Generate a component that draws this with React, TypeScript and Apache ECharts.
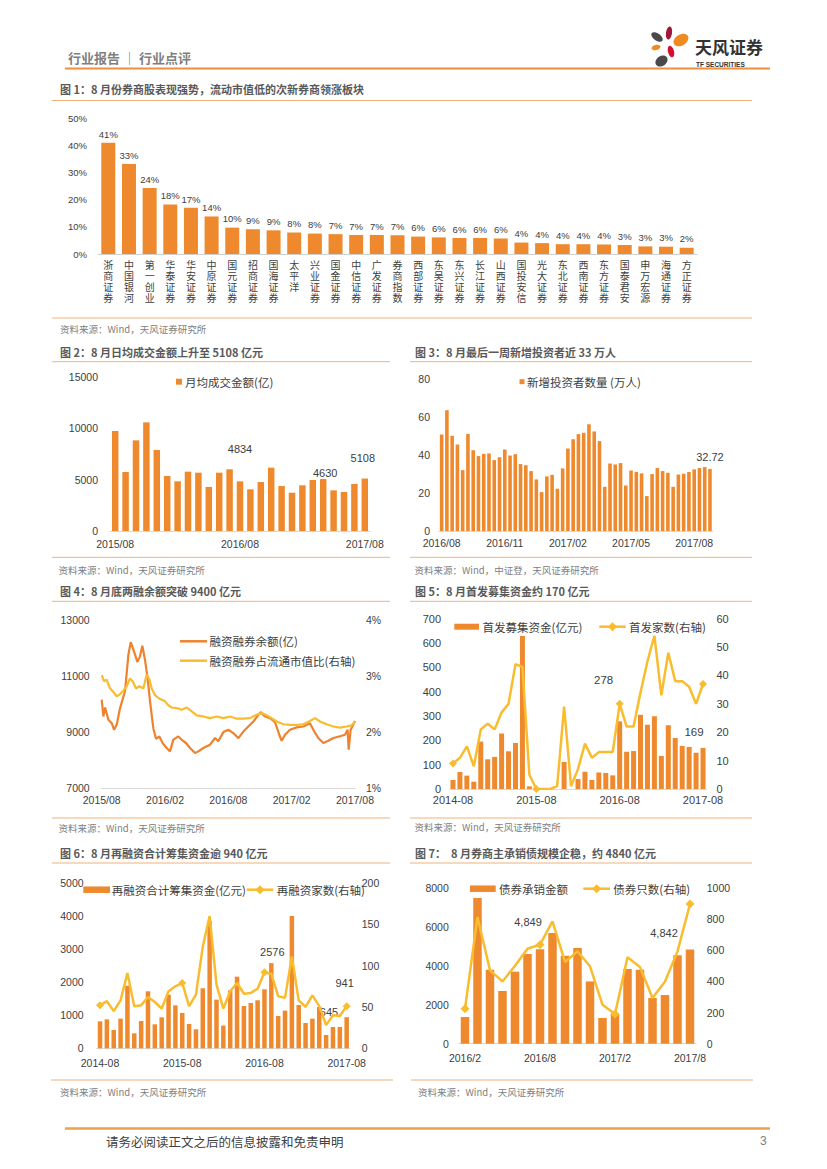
import React, { useEffect, useRef } from "react";
import * as echarts from "echarts";

// ---------- DATA ----------
const fig1Names = ["浙商证券", "中国银河", "第一创业", "华泰证券", "华安证券", "中原证券", "国元证券", "招商证券", "国海证券", "太平洋", "兴业证券", "国金证券", "中信证券", "广发证券", "券商指数", "西部证券", "东吴证券", "东兴证券", "长江证券", "山西证券", "国投安信", "光大证券", "东北证券", "西南证券", "东方证券", "国泰君安", "申万宏源", "海通证券", "方正证券"];
const fig1Values = [40.9, 33.1, 24.3, 18.2, 17.0, 13.8, 9.7, 9.1, 8.7, 7.9, 7.5, 7.3, 7.0, 7.0, 6.9, 6.4, 6.1, 5.9, 5.9, 5.7, 4.2, 4.0, 3.6, 3.6, 3.5, 3.3, 2.8, 2.7, 2.3];

const fig2Values = [9740, 5750, 8830, 10580, 7890, 5360, 4840, 5780, 5680, 4290, 5680, 6010, 4834, 4060, 4770, 6170, 4380, 3730, 4450, 4970, 5060, 3960, 3800, 4580, 5108];
const fig2Notes = [{ index: 12, text: "4834" }, { index: 20, text: "4630" }, { index: 24, text: "5108" }];

const fig3Values = [50.9, 63.7, 50.2, 45.6, 32.1, 51.2, 42.6, 39.5, 40.7, 40.9, 37.4, 38.9, 43.0, 39.8, 40.5, 35.3, 34.7, 31.6, 27.2, 20.5, 28.8, 29.6, 22.3, 33.0, 43.5, 48.4, 51.1, 51.8, 56.3, 52.5, 47.4, 23.3, 35.6, 35.1, 35.8, 24.0, 31.9, 31.2, 30.4, 18.4, 30.0, 33.2, 31.6, 30.7, 23.3, 29.8, 30.2, 31.1, 32.5, 33.2, 33.7, 32.72];
const fig3Ticks = ["2016/08", "2016/11", "2017/02", "2017/05", "2017/08"];
const fig3Notes = [{ index: 51, text: "32.72" }];

// months since 2015/08 and value
const fig4BalanceMonths = [0, 0.16, 0.32, 0.63, 0.95, 1.17, 1.42, 1.74, 2.21, 2.53, 2.75, 3.06, 3.38, 3.63, 3.85, 4.10, 4.33, 4.58, 4.89, 5.15, 5.46, 5.78, 6.16, 6.47, 6.79, 7.26, 7.58, 7.99, 8.37, 8.84, 9.16, 9.63, 10.26, 10.74, 11.05, 11.53, 12.00, 12.47, 12.95, 13.42, 13.89, 14.37, 14.84, 15.06, 15.47, 15.95, 16.42, 16.83, 17.05, 17.37, 17.84, 18.47, 19.10, 19.73, 20.05, 20.52, 21.00, 21.47, 21.95, 22.58, 23.05, 23.30, 23.40, 23.59, 24.00];
const fig4Balance = [10160, 9560, 9880, 9440, 9320, 9080, 9260, 9860, 10460, 11770, 12220, 11890, 11510, 11710, 12090, 11590, 10990, 10100, 9140, 8760, 8845, 8600, 8430, 8310, 8730, 8845, 8725, 8610, 8430, 8250, 8310, 8430, 8550, 8790, 8670, 9000, 9085, 8965, 8785, 9020, 9200, 9380, 9620, 9715, 9560, 9500, 9360, 8905, 8690, 8905, 9085, 9170, 9200, 9320, 9085, 8790, 8610, 8690, 8790, 8850, 8905, 9085, 8370, 9085, 9400];
const fig4RatioMonths = [0, 0.22, 0.47, 0.79, 1.11, 1.42, 1.74, 2.05, 2.37, 2.68, 2.94, 3.25, 3.57, 3.95, 4.26, 4.52, 4.74, 5.05, 5.37, 5.68, 6.00, 6.32, 6.63, 7.10, 7.58, 8.05, 8.53, 9.00, 9.63, 10.26, 10.89, 11.53, 12.16, 12.79, 13.42, 14.05, 14.68, 15.16, 15.63, 16.10, 16.58, 17.21, 17.84, 18.47, 19.10, 19.73, 20.21, 20.68, 21.31, 21.95, 22.58, 23.21, 23.68, 24.00];
const fig4Ratio = [3.02, 2.91, 2.94, 2.78, 2.72, 2.64, 2.68, 2.74, 2.82, 2.96, 2.91, 2.78, 2.82, 2.78, 3.03, 2.94, 2.78, 2.66, 2.61, 2.58, 2.55, 2.48, 2.44, 2.43, 2.40, 2.44, 2.37, 2.30, 2.28, 2.25, 2.28, 2.25, 2.28, 2.24, 2.24, 2.25, 2.31, 2.34, 2.30, 2.25, 2.19, 2.14, 2.13, 2.13, 2.14, 2.20, 2.25, 2.19, 2.14, 2.10, 2.08, 2.10, 2.12, 2.19];
const fig4Ticks = ["2015/08", "2016/02", "2016/08", "2017/02", "2017/08"];

const fig5Amount = [37, 70, 55, 30, 195, 122, 132, 228, 155, 189, 629, 11, 0, 0, 0, 0, 111, 0, 41, 71, 37, 68, 66, 56, 278, 153, 156, 305, 264, 299, 136, 262, 210, 177, 173, 149, 169];
const fig5Count = [9, 11, 15, 8, 21, 23, 21, 27, 30, 44, 43, 5, 0, 0, 0, 1, 29, 1, 7, 16, 11, 13, 13, 13, 30, 22, 22, 34, 45, 54, 33, 48, 38, 38, 36, 30, 37];
const fig5Notes = [{ index: 24, text: "278" }, { index: 36, text: "169" }];

const fig6Amount = [816, 877, 554, 897, 1895, 454, 826, 1724, 726, 937, 1623, 1300, 1069, 736, 575, 1815, 3850, 1472, 685, 1750, 2167, 1280, 1371, 1452, 1784, 2576, 978, 1140, 4000, 1311, 766, 897, 1250, 403, 645, 645, 941];
const fig6Count = [52, 57, 45, 58, 91, 51, 52, 62, 56, 48, 69, 75, 79, 51, 65, 123, 160, 77, 48, 69, 79, 66, 67, 72, 92, 90, 63, 61, 111, 58, 50, 64, 51, 28, 40, 39, 51];
const fig6Notes = [{ index: 25, text: "2576" }, { index: 34, text: "645" }, { index: 36, text: "941" }];

const fig7Amount = [1370, 7490, 3800, 2710, 3700, 4610, 4849, 5690, 4520, 4920, 3200, 1320, 1540, 3840, 3800, 2350, 2500, 4540, 4842];
const fig7Count = [225, 814, 471, 400, 501, 610, 636, 786, 525, 593, 497, 250, 190, 555, 492, 293, 400, 593, 897];
const fig7Notes = [{ index: 6, text: "4,849" }, { index: 18, text: "4,842" }];

function months(y: number, m: number, n: number, sep: string, pad: boolean): string[] {
  const out: string[] = [];
  for (let i = 0; i < n; i++) {
    const t = m - 1 + i;
    const yy = y + Math.floor(t / 12);
    const mm = (t % 12) + 1;
    out.push(yy + sep + (pad && mm < 10 ? "0" + mm : String(mm)));
  }
  return out;
}
const fig2Cats = months(2015, 8, fig2Values.length, "/", true);
const fig3Cats = fig3Values.map((_, i) => "W" + (i + 1));
const fig5Cats = months(2014, 8, fig5Amount.length, "-", true);
const fig6Cats = months(2014, 8, fig6Amount.length, "-", true);
const fig7Cats = months(2016, 2, fig7Amount.length, "/", false);

// ---------- STYLE ----------
const FONT = '"Liberation Sans", "Noto Sans CJK SC", sans-serif';
const CJK = '"Noto Sans CJK SC", "Liberation Sans", sans-serif';
const ORANGE = "#EE8A2D";
const LINE_ORANGE = "#EE822F";
const YELLOW = "#F9BC2E";
const AXIS_TXT = "#404040";
const RULE = "#F2B27C";
const FIG1_CHAR_STEP = 11;

const noteOffsets: Record<string, number[]> = {
  "2-12": [0, -22], "2-20": [2, 4], "2-24": [-2, -10],
  "3-51": [0, -1],
  "5-24": [-16, -31], "5-36": [-9, -5],
  "6-25": [1, -1], "6-34": [-4, -4], "6-36": [-2, -24],
  "7-6": [-12, -17], "7-18": [-26, -6],
};

function withNotes(fig: number, values: number[], notes: { index: number; text: string }[], size: number) {
  return values.map((v, i) => {
    const n = notes.find((x) => x.index === i);
    if (!n) return v;
    return {
      value: v,
      label: {
        show: true, position: "top", formatter: n.text, offset: noteOffsets[fig + "-" + i] || [0, 0],
        color: AXIS_TXT, fontSize: size, fontFamily: FONT,
      },
    };
  });
}

const plain = (v: number) => String(v);

function catAxis(gridIndex: number, data: string[], interval: number, margin: number, size: number, extra: any = {}) {
  return {
    type: "category", gridIndex, data, position: "bottom",
    axisLine: { show: true, lineStyle: { color: "#D9D9D9", width: 1 } },
    axisTick: { show: false },
    axisLabel: { interval, margin, fontSize: size, color: AXIS_TXT, fontFamily: FONT, hideOverlap: false, ...(extra.axisLabel || {}) },
  };
}
// one axis per character row of the vertical category names in figure 1
function fig1CharAxis(k: number) {
  return {
    type: "category", gridIndex: 0, data: fig1Names, position: "bottom", offset: k * FIG1_CHAR_STEP,
    axisLine: { show: k === 0, lineStyle: { color: "#D0D0D0" } }, axisTick: { show: false },
    axisLabel: {
      interval: 0, margin: 5, fontSize: 10, color: AXIS_TXT, fontFamily: CJK, hideOverlap: false,
      formatter: (v: string) => v.charAt(k),
    },
  };
}
function valAxis(gridIndex: number, min: number, max: number, interval: number, margin: number, size: number, position: string, formatter: any = plain) {
  return {
    type: "value", gridIndex, min, max, interval, position,
    axisLine: { show: false }, axisTick: { show: false }, splitLine: { show: false },
    axisLabel: { margin, fontSize: size, color: AXIS_TXT, fontFamily: FONT, formatter },
  };
}

function txt(x: number, y: number, text: string, size: number, color: string, weight = "normal", align = "left", family = CJK) {
  return { type: "text", x, y, silent: true, style: { text, fill: color, fontSize: size, fontWeight: weight, fontFamily: family, align, verticalAlign: "middle" } };
}
function hline(x1: number, x2: number, y: number, color: string, w: number) {
  return { type: "line", silent: true, shape: { x1, y1: y, x2, y2: y }, style: { stroke: color, lineWidth: w } };
}
function rectLegend(x: number, y: number, w: number, h: number) {
  return { type: "rect", silent: true, shape: { x, y: y - h / 2, width: w, height: h }, style: { fill: ORANGE } };
}
function lineLegend(x1: number, x2: number, y: number, color: string, diamond: boolean) {
  const els: any[] = [{ type: "line", silent: true, shape: { x1, y1: y, x2, y2: y }, style: { stroke: color, lineWidth: 2.5 } }];
  if (diamond) {
    const c = (x1 + x2) / 2;
    els.push({ type: "polygon", silent: true, shape: { points: [[c, y - 4.5], [c + 4.5, y], [c, y + 4.5], [c - 4.5, y]] }, style: { fill: color } });
  }
  return els;
}
function petal(cx: number, cy: number, rx: number, ry: number, rot: number, fill: string) {
  return { type: "ellipse", silent: true, x: cx, y: cy, rotation: rot, shape: { cx: 0, cy: 0, rx, ry }, style: { fill } };
}

export default function App() {
  const ref = useRef<HTMLDivElement>(null);
  useEffect(() => {
    if (!ref.current) return;
    const chart = echarts.init(ref.current, null, { renderer: "svg" });

    const lineSeries = (x: number, y: number, data: any, size: number) => ({
      type: "line", xAxisIndex: x, yAxisIndex: y, data, symbol: "diamond", symbolSize: size,
      lineStyle: { color: YELLOW, width: 2.5 }, itemStyle: { color: YELLOW }, z: 3,
    });

    const option: any = {
      animation: false,
      textStyle: { fontFamily: FONT },
      grid: [
        { left: 98, top: 118, width: 599, height: 136 },
        { left: 110, top: 377, width: 260, height: 154 },
        { left: 439, top: 379.3, width: 273.6, height: 151.7 },
        { left: 101.7, top: 620.3, width: 253.3, height: 167.7 },
        { left: 449.5, top: 618.7, width: 257, height: 170.3 },
        { left: 96.6, top: 883, width: 253.5, height: 165.3 },
        { left: 458.75, top: 888, width: 237.5, height: 155.7 },
      ],
      xAxis: [
        fig1CharAxis(0),
        catAxis(1, fig2Cats, 11, 8, 10.5),
        catAxis(2, fig3Cats, 11, 7, 10.5, { axisLabel: { formatter: (_: string, i: number) => fig3Ticks[Math.round(i / 12)] || "" } }),
        {
          type: "value", gridIndex: 3, min: 0, max: 24, interval: 6, position: "bottom",
          axisLine: { show: true, lineStyle: { color: "#D9D9D9" } }, axisTick: { show: false }, splitLine: { show: false },
          axisLabel: { margin: 7, fontSize: 10.5, color: AXIS_TXT, fontFamily: FONT, formatter: (v: number) => fig4Ticks[Math.round(v / 6)] || "" },
        },
        catAxis(4, fig5Cats, 11, 5, 11),
        catAxis(5, fig6Cats, 11, 9, 10.5),
        catAxis(6, fig7Cats, 5, 9, 10.5),
        fig1CharAxis(1),
        fig1CharAxis(2),
        fig1CharAxis(3),
      ],
      yAxis: [
        valAxis(0, 0, 50, 10, 11, 9.5, "left", (v: number) => v + "%"),
        valAxis(1, 0, 15000, 5000, 12, 10.5, "left"),
        valAxis(2, 0, 80, 20, 9, 10.5, "left"),
        valAxis(3, 7000, 13000, 2000, 12, 10.5, "left"),
        valAxis(3, 1, 4, 1, 11, 10.5, "right", (v: number) => v + "%"),
        valAxis(4, 0, 700, 100, 8.5, 11, "left"),
        valAxis(4, 0, 60, 10, 10, 11, "right"),
        valAxis(5, 0, 5000, 1000, 13, 10.5, "left"),
        valAxis(5, 0, 200, 50, 11.6, 10.5, "right"),
        valAxis(6, 0, 8000, 2000, 10, 10.5, "left"),
        valAxis(6, 0, 1000, 200, 10.5, 10.5, "right"),
      ],
      series: [
        {
          type: "bar", xAxisIndex: 0, yAxisIndex: 0, data: fig1Values, barWidth: 14,
          itemStyle: { color: ORANGE },
          label: { show: true, position: "top", distance: 4, fontSize: 9.5, color: AXIS_TXT, fontFamily: FONT, formatter: (p: any) => Math.round(p.value) + "%" },
        },
        { type: "bar", xAxisIndex: 1, yAxisIndex: 1, data: withNotes(2, fig2Values, fig2Notes, 11), barWidth: 6.5, itemStyle: { color: ORANGE } },
        { type: "bar", xAxisIndex: 2, yAxisIndex: 2, data: withNotes(3, fig3Values, fig3Notes, 11), barWidth: 3.6, itemStyle: { color: ORANGE } },
        {
          type: "line", xAxisIndex: 3, yAxisIndex: 3, showSymbol: false, symbol: "none",
          data: fig4BalanceMonths.map((m, i) => [m, fig4Balance[i]]),
          lineStyle: { color: LINE_ORANGE, width: 2.2 }, itemStyle: { color: LINE_ORANGE },
        },
        {
          type: "line", xAxisIndex: 3, yAxisIndex: 4, showSymbol: false, symbol: "none",
          data: fig4RatioMonths.map((m, i) => [m, fig4Ratio[i]]),
          lineStyle: { color: YELLOW, width: 2.2 }, itemStyle: { color: YELLOW },
        },
        { type: "bar", xAxisIndex: 4, yAxisIndex: 5, data: withNotes(5, fig5Amount, fig5Notes, 11.5), barWidth: 5, itemStyle: { color: ORANGE } },
        lineSeries(4, 6, fig5Count, 8),
        { type: "bar", xAxisIndex: 5, yAxisIndex: 7, data: withNotes(6, fig6Amount, fig6Notes, 11), barWidth: 4.5, itemStyle: { color: ORANGE } },
        lineSeries(5, 8, fig6Count, 8),
        { type: "bar", xAxisIndex: 6, yAxisIndex: 9, data: withNotes(7, fig7Amount, fig7Notes, 11), barWidth: 8.5, itemStyle: { color: ORANGE } },
        lineSeries(6, 10, fig7Count, 9),
      ],
      graphic: [
        // header
        txt(68, 57, "行业报告 ｜ 行业点评", 13, "#7F7F7F", "bold"),
        hline(65, 770, 68.5, "#EE9040", 2),
        petal(657, 37, 6.5, 3.5, -0.6, "#4A4A4A"),
        petal(669, 33, 3, 6.5, -0.15, "#A3173A"),
        petal(681, 40, 8, 5.5, 0.55, "#F08A1E"),
        petal(656, 47.5, 4.5, 2.6, 0.2, "#F08A1E"),
        petal(671, 51.5, 3, 6, 0.25, "#D0102E"),
        petal(661.5, 61, 6.5, 5, 0.6, "#4A4A4A"),
        txt(695, 46, "天风证券", 17, "#333333", "bold"),
        txt(696, 64, "TF SECURITIES", 6.5, "#333333", "bold", "left", FONT),

        // fig 1
        txt(60, 89, "图 1：8 月份券商股表现强势，流动市值低的次新券商领涨板块", 11, "#595959", "bold"),
        hline(52, 752, 100.5, RULE, 1),
        hline(52, 752, 318, RULE, 1),
        txt(60, 329, "资料来源：Wind，天风证券研究所", 9.5, "#808080"),

        // fig 2
        txt(60, 351.7, "图 2：8 月日均成交金额上升至 5108 亿元", 11, "#595959", "bold"),
        hline(52, 390, 361.7, RULE, 1),
        rectLegend(176, 381.7, 6, 6),
        txt(185, 381.7, "月均成交金额(亿)", 11.5, AXIS_TXT),
        hline(52, 390, 557.3, RULE, 1),
        txt(58.5, 570, "资料来源：Wind，天风证券研究所", 9.5, "#808080"),

        // fig 3
        txt(415, 351.7, "图 3：8 月最后一周新增投资者近 33 万人", 11, "#595959", "bold"),
        hline(410, 752, 361.7, RULE, 1),
        rectLegend(519.5, 381.7, 5, 5),
        txt(527, 381.7, "新增投资者数量 (万人)", 11.5, AXIS_TXT),
        hline(410, 752, 557.3, RULE, 1),
        txt(414.5, 570, "资料来源：Wind，中证登，天风证券研究所", 9.5, "#808080"),

        // fig 4
        txt(60, 591.3, "图 4：8 月底两融余额突破 9400 亿元", 11, "#595959", "bold"),
        hline(52, 390, 601.3, RULE, 1),
        ...lineLegend(180, 207, 641.3, LINE_ORANGE, false),
        txt(209.5, 641.3, "融资融券余额(亿)", 11.5, AXIS_TXT),
        ...lineLegend(180, 207, 660.7, YELLOW, false),
        txt(209.5, 660.7, "融资融券占流通市值比(右轴)", 11.5, AXIS_TXT),
        hline(52, 390, 818, RULE, 1),
        txt(58.5, 827.7, "资料来源：Wind，天风证券研究所", 9.5, "#808080"),

        // fig 5
        txt(415, 591.3, "图 5：8 月首发募集资金约 170 亿元", 11, "#595959", "bold"),
        hline(410, 752, 601.3, RULE, 1),
        rectLegend(454.3, 626.7, 24.7, 6),
        txt(482.5, 626.7, "首发募集资金(亿元)", 11.5, AXIS_TXT),
        ...lineLegend(599.3, 625.7, 626.7, YELLOW, true),
        txt(629, 626.7, "首发家数(右轴)", 11.5, AXIS_TXT),
        hline(410, 752, 818, RULE, 1),
        txt(414.5, 827.3, "资料来源：Wind，天风证券研究所", 9.5, "#808080"),

        // fig 6
        txt(60, 853, "图 6：8 月再融资合计筹集资金逾 940 亿元", 11, "#595959", "bold"),
        hline(52, 390, 863, RULE, 1),
        rectLegend(83.3, 889.7, 26.7, 6.5),
        txt(111.7, 889.7, "再融资合计筹集资金(亿元)", 11.5, AXIS_TXT),
        ...lineLegend(246.7, 273.3, 889.7, YELLOW, true),
        txt(276.7, 889.7, "再融资家数(右轴)", 11.5, AXIS_TXT),
        hline(51, 393, 1080, RULE, 1),
        txt(60, 1092, "资料来源：Wind，天风证券研究所", 9.5, "#808080"),

        // fig 7
        txt(415, 853, "图 7：  8 月券商主承销债规模企稳，约 4840 亿元", 11, "#595959", "bold"),
        hline(410, 752, 863, RULE, 1),
        rectLegend(470, 888.7, 25.7, 6.5),
        txt(499, 888.7, "债券承销金额", 11.5, AXIS_TXT),
        ...lineLegend(583.3, 610, 888.7, YELLOW, true),
        txt(613.3, 888.7, "债券只数(右轴)", 11.5, AXIS_TXT),
        hline(411, 753, 1080, RULE, 1),
        txt(418, 1092, "资料来源：Wind，天风证券研究所", 9.5, "#808080"),

        // footer
        hline(65, 770, 1128.5, "#EDA24A", 2.5),
        txt(106, 1141, "请务必阅读正文之后的信息披露和免责申明", 12.5, "#404040"),
        txt(760, 1141, "3", 12, "#808080", "normal", "left", FONT),
      ],
    };
    chart.setOption(option);
    return () => chart.dispose();
  }, []);

  return (
    <div style={{ position: "absolute", left: 0, top: 0, width: 827, height: 1169, background: "#fff" }}>
      <div ref={ref} style={{ width: 827, height: 1169 }} />
    </div>
  );
}
